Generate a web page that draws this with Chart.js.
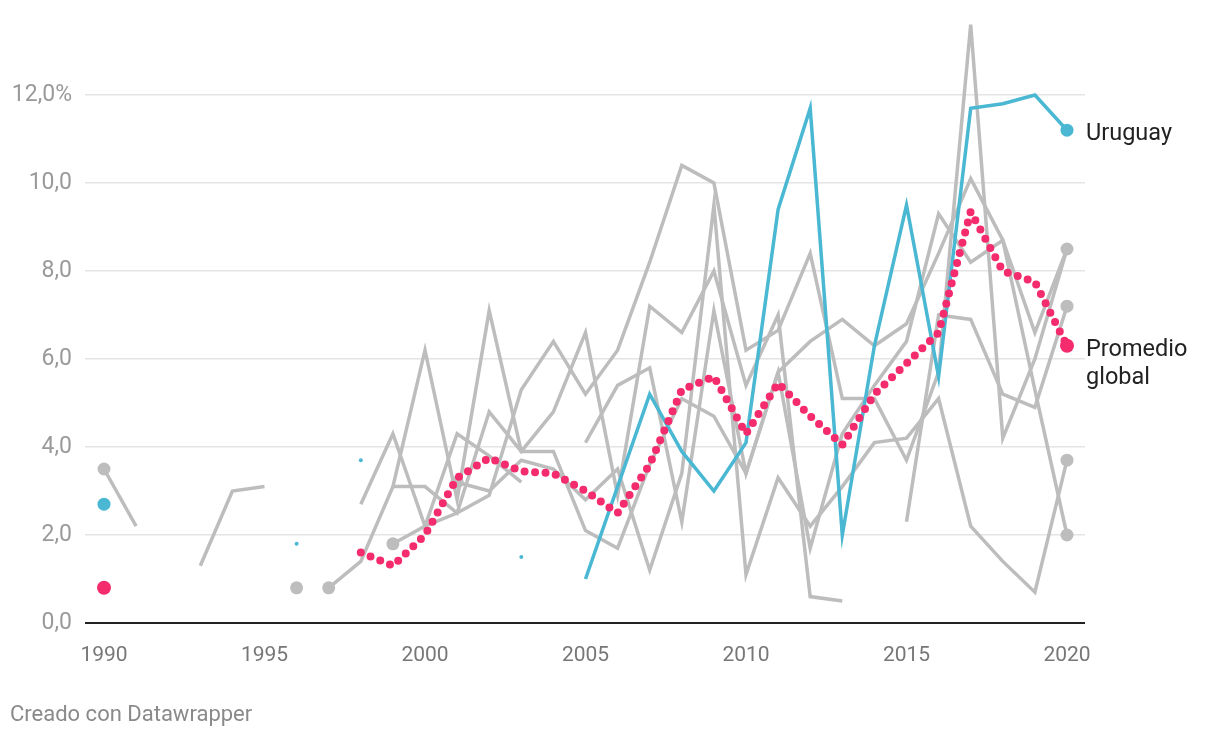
<!DOCTYPE html>
<html lang="es">
<head>
  <meta charset="UTF-8" />
  <title>Uruguay y promedio global</title>
  <script src="https://cdn.jsdelivr.net/npm/chart.js"></script>
  <style>
    html, body { margin: 0; padding: 0; background: #fff; }
    #wrap { position: relative; width: 1220px; height: 738px; }
    #credit { position: absolute; left: 10px; top: 701px; font: 22px Roboto, sans-serif; color: #8a8a8a; }
  </style>
</head>
<body>
  <div id="wrap">
    <canvas id="chart"></canvas>
    <div id="credit">Creado con Datawrapper</div>
  </div>

  <script>
    const N = null;
    const years = [1990, 1991, 1992, 1993, 1994, 1995, 1996, 1997, 1998, 1999,
                   2000, 2001, 2002, 2003, 2004, 2005, 2006, 2007, 2008, 2009,
                   2010, 2011, 2012, 2013, 2014, 2015, 2016, 2017, 2018, 2019, 2020];
    const xTicks = [1990, 1995, 2000, 2005, 2010, 2015, 2020];
    const yTicks = [0, 2, 4, 6, 8, 10, 12];

    const uruguay  = [2.7, N, N, N, N, N, 1.8, N, 3.7, N,
                      N, N, N, 1.5, N, 1.0, 3.1, 5.2, 3.9, 3.0,
                      4.1, 9.4, 11.7, 2.0, 6.3, 9.5, 5.6, 11.7, 11.8, 12.0, 11.2];
    const promedio = [0.8, N, N, N, N, N, N, N, 1.6, 1.3,
                      2.0, 3.3, 3.75, 3.45, 3.4, 3.0, 2.5, 3.6, 5.3, 5.6,
                      4.3, 5.45, 4.7, 4.05, 5.2, 5.9, 6.6, 9.35, 8.0, 7.75, 6.3];

    // other countries (grey)
    const grayA = [3.5, 2.2, N, 1.3, 3.0, 3.1, N, N, N, N,
                   N, N, N, N, N, N, N, N, N, N,
                   N, N, N, N, N, N, N, N, N, N, N];
    const grayB = [N, N, N, N, N, N, N, 0.8, 1.4, 3.1,
                   6.2, 2.8, 7.1, 3.9, 3.9, 2.1, 1.7, 3.6, 5.1, 4.7,
                   3.4, 5.7, 1.7, 4.3, 5.4, 6.4, 9.3, 8.2, 8.7, 6.6, 8.5];
    const grayC = [N, N, N, N, N, N, N, N, 2.7, 4.3,
                   2.2, 4.3, 3.8, 3.2, N, N, N, N, N, N,
                   N, N, N, N, N, N, N, N, N, N, N];
    const grayD = [N, N, N, N, N, N, N, N, N, 1.8,
                   2.2, 2.5, 2.9, 5.3, 6.4, 5.2, 6.2, 8.2, 10.4, 10.0,
                   6.2, 6.65, 8.4, 5.1, 5.1, 3.7, 5.7, 13.6, 4.2, 6.0, 8.5];
    const grayE = [N, N, N, N, N, N, N, N, N, 3.1,
                   3.1, 2.5, 4.8, 3.9, 4.8, 6.6, 2.9, 7.2, 6.6, 8.0,
                   5.4, 7.0, 0.6, 0.5, N, N, N, N, N, N, N];
    const grayF = [N, N, N, N, N, N, N, N, N, N,
                   N, 3.2, 3.0, 3.7, 3.5, 2.8, 3.5, 1.2, 3.4, 9.5,
                   1.1, 3.3, 2.2, 3.1, 4.1, 4.2, 5.1, 2.2, 1.4, 0.7, 3.7];
    const grayG = [N, N, N, N, N, N, N, N, N, N,
                   N, N, N, N, N, 4.1, 5.4, 5.8, 2.3, 7.1,
                   3.4, 5.7, 6.4, 6.9, 6.3, 6.8, 8.4, 10.1, 8.7, 5.3, 2.0];
    const grayH = [N, N, N, N, N, N, N, N, N, N,
                   N, N, N, N, N, N, N, N, N, N,
                   N, N, N, N, N, 2.3, 7.0, 6.9, 5.2, 4.9, 7.2];

    const grayDotYears  = [1990, 1996, 1997, 1999, 2001, 2020, 2020, 2020, 2020];
    const grayDotValues = [3.5, 0.8, 0.8, 1.8, 3.2, 8.5, 7.2, 3.7, 2.0];

    const GRAY = '#bdbdbd', BLUE = '#4ab8d3', PINK = '#f42b6c';
    const LAST = years.length - 1;

    const pts = arr => arr.map((v, i) => ({ x: years[i], y: v }));
    const isolated = (arr, i) => arr[i] !== null &&
      (i === 0 || arr[i - 1] === null) && (i === LAST || arr[i + 1] === null);

    const grayLines = [grayA, grayB, grayC, grayD, grayE, grayF, grayG, grayH].map(arr => ({
      data: pts(arr),
      borderColor: GRAY,
      borderWidth: 3.5,
      pointRadius: 0,
      spanGaps: false,
      order: 5
    }));

    const endLabels = {
      id: 'endLabels',
      afterDatasetsDraw(chart) {
        const { ctx, scales: { x, y } } = chart;
        const lx = x.getPixelForValue(years[LAST]) + 19;
        ctx.save();
        ctx.font = '23.5px Roboto, sans-serif';
        ctx.fillStyle = '#222';
        ctx.textBaseline = 'middle';
        ctx.fillText('Uruguay', lx, y.getPixelForValue(uruguay[LAST]) + 4);
        const py = y.getPixelForValue(promedio[LAST]);
        ctx.fillText('Promedio', lx, py + 4);
        ctx.fillText('global', lx, py + 32);
        ctx.restore();
      }
    };

    new Chart(document.getElementById('chart'), {
      type: 'line',
      data: {
        datasets: [
          {
            label: 'Promedio global',
            data: pts(promedio),
            borderColor: PINK,
            backgroundColor: PINK,
            borderWidth: 8,
            borderDash: [0, 10.5],
            borderCapStyle: 'round',
            pointRadius: c => (c.dataIndex === 0 || c.dataIndex === LAST) ? 7 : 0,
            pointBorderWidth: 0,
            spanGaps: false,
            order: 1
          },
          {
            label: 'Uruguay',
            data: pts(uruguay),
            borderColor: BLUE,
            backgroundColor: BLUE,
            borderWidth: 3.5,
            pointRadius: c => (c.dataIndex === 0 || c.dataIndex === LAST) ? 6.5
              : (isolated(uruguay, c.dataIndex) ? 2 : 0),
            pointBorderWidth: 0,
            spanGaps: false,
            order: 2
          },
          {
            label: 'puntos',
            data: grayDotYears.map((yr, i) => ({ x: yr, y: grayDotValues[i] })),
            showLine: false,
            backgroundColor: GRAY,
            borderWidth: 0,
            pointRadius: 6.5,
            order: 3
          },
          ...grayLines
        ]
      },
      options: {
        responsive: true,
        maintainAspectRatio: false,
        animation: false,
        layout: { padding: { top: 1, right: 135, bottom: 0, left: 0 } },
        plugins: { legend: { display: false }, tooltip: { enabled: false } },
        elements: { line: { tension: 0 } },
        scales: {
          x: {
            type: 'linear',
            min: 1990 - 19 / 32.1,
            max: 2020 + 18 / 32.1,
            afterBuildTicks: s => { s.ticks = xTicks.map(v => ({ value: v })); },
            afterFit: s => { s.height = 115; },
            grid: { display: false },
            border: { display: false },
            ticks: {
              callback: v => String(v),
              color: '#777',
              font: { family: 'Roboto', size: 21 },
              padding: 12,
              maxRotation: 0
            }
          },
          y: {
            min: 0,
            max: 14,
            afterBuildTicks: s => { s.ticks = yTicks.map(v => ({ value: v })); },
            afterFit: s => { s.width = 85; s.paddingTop = 0; s.paddingBottom = 0; },
            border: { display: false },
            grid: {
              drawTicks: false,
              color: c => c.tick && c.tick.value === 0 ? '#222' : '#e4e4e4',
              lineWidth: c => c.tick && c.tick.value === 0 ? 2 : 1.5
            },
            ticks: {
              callback: v => v.toFixed(1).replace('.', ',') + (v === 12 ? '%' : ''),
              color: '#9a9a9a',
              font: { family: 'Roboto', size: 23 },
              padding: 13
            }
          }
        }
      },
      plugins: [endLabels]
    });
  </script>
</body>
</html>
